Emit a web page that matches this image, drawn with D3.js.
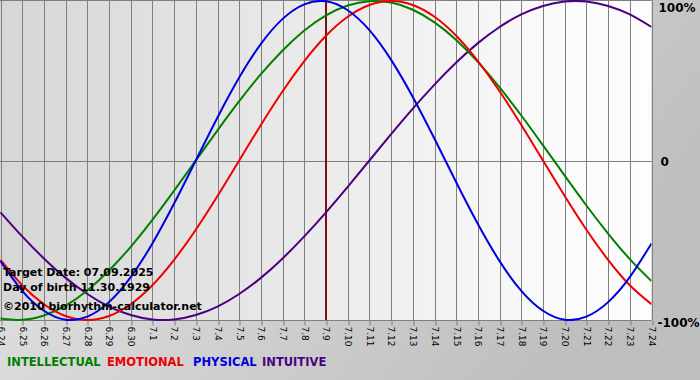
<!DOCTYPE html>
<html>
<head>
<meta charset="utf-8">
<script src="https://cdn.jsdelivr.net/npm/d3@7"></script>
<style>
  html, body { margin: 0; padding: 0; background: #d0d0d0; }
  svg { display: block; }
</style>
</head>
<body>
<svg id="chart" width="700" height="380"></svg>
<script>
// ---- data ----
const days = ["6.24","6.25","6.26","6.27","6.28","6.29","6.30","7.1","7.2","7.3","7.4","7.5","7.6","7.7","7.8","7.9","7.10","7.11","7.12","7.13","7.14","7.15","7.16","7.17","7.18","7.19","7.20","7.21","7.22","7.23","7.24"];
const physical = [-0.631,-0.817,-0.942,-0.998,-0.979,-0.888,-0.731,-0.520,-0.270,0,0.270,0.520,0.731,0.888,0.979,0.998,0.942,0.817,0.631,0.398,0.136,-0.136,-0.398,-0.631,-0.817,-0.942,-0.998,-0.979,-0.888,-0.731,-0.520];
const emotional = [-0.623,-0.782,-0.901,-0.975,-1.000,-0.975,-0.901,-0.782,-0.623,-0.434,-0.223,0,0.223,0.434,0.623,0.782,0.901,0.975,1.000,0.975,0.901,0.782,0.623,0.434,0.223,0,-0.223,-0.434,-0.623,-0.782,-0.901];
const intellectual = [-0.990,-0.999,-0.972,-0.910,-0.815,-0.690,-0.541,-0.372,-0.189,0,0.189,0.372,0.541,0.690,0.815,0.910,0.972,0.999,0.990,0.945,0.866,0.756,0.618,0.458,0.282,0.095,-0.095,-0.282,-0.458,-0.618,-0.756];
const intuitive = [-0.325,-0.476,-0.614,-0.736,-0.837,-0.916,-0.969,-0.997,-0.997,-0.969,-0.916,-0.837,-0.736,-0.614,-0.476,-0.325,-0.165,0,0.165,0.325,0.476,0.614,0.736,0.837,0.916,0.969,0.997,0.997,0.969,0.916,0.837];
const yTicks = [-1, 0, 1];
const yTickLabels = ["-100%", "0", "100%"];
const targetDay = "7.9";
const infoLines = ["Target Date: 07.09.2025", "Day of birth 11.30.1929", "\u00A92010 biorhythm-calculator.net"];
const legendNames = ["INTELLECTUAL", "EMOTIONAL", "PHYSICAL", "INTUITIVE"];

// ---- drawing ----
const svg = d3.select("#chart");
const W = 700, H = 380;
const plot = {left: 0.5, right: 651.5, top: 1, bottom: 320};
const colors = {INTELLECTUAL: "#008000", EMOTIONAL: "#ee0000", PHYSICAL: "#0000dd", INTUITIVE: "#4b0082"};

const defs = svg.append("defs");
const bg = defs.append("linearGradient").attr("id", "bg").attr("x1", 0).attr("y1", 0).attr("x2", 1).attr("y2", 0.4);
bg.append("stop").attr("offset", 0).attr("stop-color", "#e8e8e8");
bg.append("stop").attr("offset", 1).attr("stop-color", "#bfbfbf");
const pg = defs.append("linearGradient").attr("id", "pg").attr("x1", 0).attr("y1", 0).attr("x2", 1).attr("y2", 0);
pg.append("stop").attr("offset", 0).attr("stop-color", "#d6d6d6");
pg.append("stop").attr("offset", 0.85).attr("stop-color", "#fafafa");
pg.append("stop").attr("offset", 1).attr("stop-color", "#fdfdfd");
defs.append("clipPath").attr("id", "clip").append("rect")
  .attr("x", 0).attr("y", 0).attr("width", plot.right).attr("height", plot.bottom + 1);

svg.append("rect").attr("width", W).attr("height", H).attr("fill", "url(#bg)");
svg.append("rect").attr("x", 0).attr("y", 0).attr("width", plot.right).attr("height", plot.bottom)
  .attr("fill", "url(#pg)");

const x = d3.scalePoint().domain(days).range([plot.left, plot.right]);
const y = d3.scaleLinear().domain([-1, 1]).range([plot.bottom, plot.top]);

// vertical grid lines
svg.append("g").selectAll("line").data(days).join("line")
  .attr("x1", d => Math.round(x(d)) + 0.5).attr("x2", d => Math.round(x(d)) + 0.5)
  .attr("y1", 0).attr("y2", plot.bottom)
  .attr("stroke", "#7f7f7f").attr("stroke-width", 1);
// zero line, top & bottom border
svg.append("g").selectAll("line").data([0, 1, -1]).join("line")
  .attr("x1", 0).attr("x2", plot.right)
  .attr("y1", d => d === 1 ? 0.5 : Math.round(y(d)) + 0.5)
  .attr("y2", d => d === 1 ? 0.5 : Math.round(y(d)) + 0.5)
  .attr("stroke", "#7f7f7f").attr("stroke-width", 1);

// x axis (rotated labels)
const xAxis = svg.append("g").attr("transform", `translate(0,${plot.bottom + 0.5})`)
  .call(d3.axisBottom(x).tickSize(5).tickPadding(6));
xAxis.select(".domain").remove();
xAxis.selectAll(".tick line").attr("stroke", "#7f7f7f")
  .attr("transform", d => `translate(${Math.round(x(d)) + 0.5 - x(d)},0)`);
xAxis.selectAll(".tick text")
  .attr("font-family", "DejaVu Sans, Verdana, sans-serif").attr("font-size", 9).attr("fill", "#000")
  .attr("text-anchor", "start").attr("transform", "rotate(90)")
  .attr("x", 6).attr("y", 0).attr("dy", "0.35em");

// y axis on the right
const yAxis = svg.append("g").attr("transform", `translate(${plot.right + 3},0)`)
  .call(d3.axisRight(y).tickValues(yTicks).tickSize(0).tickPadding(3)
    .tickFormat((d, i) => yTickLabels[yTicks.indexOf(d)]));
yAxis.select(".domain").remove();
yAxis.selectAll(".tick text")
  .attr("font-family", "DejaVu Sans, Verdana, sans-serif").attr("font-size", 12)
  .attr("font-weight", "bold").attr("fill", "#000")
  .attr("dx", d => d === 0 ? 3 : (d === 1 ? 1 : 0))
  .attr("dy", d => d === 1 ? "0.85em" : (d === -1 ? "0.55em" : "0.4em"));

// target line
svg.append("line")
  .attr("x1", Math.round(x(targetDay)) ).attr("x2", Math.round(x(targetDay)))
  .attr("y1", 0).attr("y2", plot.bottom)
  .attr("stroke", "#7a1010").attr("stroke-width", 2);

// curves
const line = d3.line().x((d, i) => x(days[i])).y(d => y(d)).curve(d3.curveNatural);
const series = [
  {name: "INTUITIVE", values: intuitive},
  {name: "INTELLECTUAL", values: intellectual},
  {name: "EMOTIONAL", values: emotional},
  {name: "PHYSICAL", values: physical}
];
const cg = svg.append("g").attr("clip-path", "url(#clip)");
cg.selectAll("path").data(series).join("path")
  .attr("d", d => line(d.values))
  .attr("fill", "none")
  .attr("stroke", d => colors[d.name])
  .attr("stroke-width", 2);

// info text
svg.append("g").selectAll("text").data(infoLines).join("text")
  .attr("x", 3).attr("y", (d, i) => [276, 291, 310][i])
  .attr("font-family", "DejaVu Sans, Verdana, sans-serif").attr("font-size", 11)
  .attr("font-weight", "bold").attr("fill", "#000")
  .text(d => d);

// legend
const legendX = [7, 107, 193, 262];
svg.append("g").selectAll("text").data(legendNames).join("text")
  .attr("x", (d, i) => legendX[i]).attr("y", 366)
  .attr("font-family", "DejaVu Sans, Verdana, sans-serif").attr("font-size", 11.5)
  .attr("font-weight", "bold").attr("fill", d => colors[d]).text(d => d);
</script>
</body>
</html>
